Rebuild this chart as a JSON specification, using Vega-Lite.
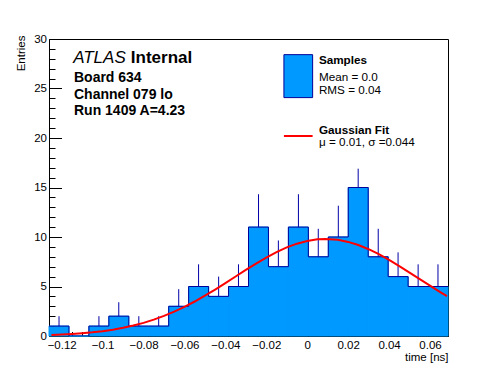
{
  "$schema": "https://vega.github.io/schema/vega-lite/v6.json",
  "width": 399,
  "height": 297,
  "autosize": {"type": "none"},
  "padding": {"left": 49, "top": 39, "right": 50, "bottom": 38},
  "background": "white",
  "config": {
    "font": "Liberation Sans",
    "view": {"stroke": "black", "strokeWidth": 1},
    "axis": {"labelFont": "Liberation Sans", "titleFont": "Liberation Sans", "labelColor": "black", "titleColor": "black", "tickColor": "black", "domainColor": "black", "grid": false, "zindex": 1},
    "text": {"font": "Liberation Sans"}
  },
  "datasets": {
    "bins": [
      {"t": -0.1213, "lo": -0.1262, "hi": -0.11645, "n": 1, "up": 2},
      {"t": -0.1116, "lo": -0.11645, "hi": -0.1067, "n": 0, "up": 0},
      {"t": -0.1018, "lo": -0.1067, "hi": -0.09695, "n": 1, "up": 2},
      {"t": -0.0921, "lo": -0.09695, "hi": -0.0872, "n": 2, "up": 3.41},
      {"t": -0.0823, "lo": -0.0872, "hi": -0.07745, "n": 1, "up": 2},
      {"t": -0.0726, "lo": -0.07745, "hi": -0.0677, "n": 1, "up": 2},
      {"t": -0.0628, "lo": -0.0677, "hi": -0.05795, "n": 3, "up": 4.73},
      {"t": -0.0531, "lo": -0.05795, "hi": -0.0482, "n": 5, "up": 7.24},
      {"t": -0.0433, "lo": -0.0482, "hi": -0.03845, "n": 4, "up": 6},
      {"t": -0.0336, "lo": -0.03845, "hi": -0.0287, "n": 5, "up": 7.24},
      {"t": -0.0238, "lo": -0.0287, "hi": -0.01895, "n": 11, "up": 14.32},
      {"t": -0.0141, "lo": -0.01895, "hi": -0.0092, "n": 7, "up": 9.65},
      {"t": -0.0043, "lo": -0.0092, "hi": 0.00055, "n": 11, "up": 14.32},
      {"t": 0.0054, "lo": 0.00055, "hi": 0.0103, "n": 8, "up": 10.83},
      {"t": 0.0152, "lo": 0.0103, "hi": 0.02005, "n": 10, "up": 13.16},
      {"t": 0.0249, "lo": 0.02005, "hi": 0.0298, "n": 15, "up": 16.9},
      {"t": 0.0347, "lo": 0.0298, "hi": 0.03955, "n": 8, "up": 10.83},
      {"t": 0.0444, "lo": 0.03955, "hi": 0.0493, "n": 6, "up": 8.45},
      {"t": 0.0542, "lo": 0.0493, "hi": 0.05905, "n": 5, "up": 7.24},
      {"t": 0.0639, "lo": 0.05905, "hi": 0.0688, "n": 5, "up": 7.24}
    ],
    "fit": [
      {"t": -0.125, "f": 0.1053}, {"t": -0.12, "f": 0.1467}, {"t": -0.115, "f": 0.2019},
      {"t": -0.11, "f": 0.2744}, {"t": -0.105, "f": 0.3684}, {"t": -0.1, "f": 0.488},
      {"t": -0.095, "f": 0.6383}, {"t": -0.09, "f": 0.8251}, {"t": -0.085, "f": 1.053},
      {"t": -0.08, "f": 1.3263}, {"t": -0.075, "f": 1.6498}, {"t": -0.07, "f": 2.0272},
      {"t": -0.065, "f": 2.4588}, {"t": -0.06, "f": 2.9456}, {"t": -0.055, "f": 3.4841},
      {"t": -0.05, "f": 4.0694}, {"t": -0.045, "f": 4.6931}, {"t": -0.04, "f": 5.3449},
      {"t": -0.035, "f": 6.0109}, {"t": -0.03, "f": 6.675}, {"t": -0.025, "f": 7.3195},
      {"t": -0.02, "f": 7.9248}, {"t": -0.015, "f": 8.4735}, {"t": -0.01, "f": 8.9462},
      {"t": -0.005, "f": 9.3269}, {"t": 0, "f": 9.6016}, {"t": 0.005, "f": 9.7605},
      {"t": 0.009, "f": 9.8}, {"t": 0.015, "f": 9.7113}, {"t": 0.02, "f": 9.5051},
      {"t": 0.025, "f": 9.1865}, {"t": 0.03, "f": 8.7674}, {"t": 0.035, "f": 8.2622},
      {"t": 0.04, "f": 7.6886}, {"t": 0.045, "f": 7.065}, {"t": 0.05, "f": 6.4104},
      {"t": 0.055, "f": 5.7435}, {"t": 0.06, "f": 5.0818}, {"t": 0.065, "f": 4.4397},
      {"t": 0.0683, "f": 4.033}
    ]
  },
  "resolve": {"axis": {"x": "independent", "y": "independent"}},
  "layer": [
    {
      "data": {"name": "bins"},
      "mark": {"type": "rect", "fill": "#0099ff", "stroke": "#0099ff", "strokeWidth": 1},
      "encoding": {
        "x": {"field": "lo", "type": "quantitative",
          "scale": {"domain": [-0.1262, 0.0688], "nice": false, "zero": false},
          "axis": {"orient": "bottom", "values": [-0.12, -0.1, -0.08, -0.06, -0.04, -0.02, 0, 0.02, 0.04, 0.06], "format": ".2~f", "tickSize": -9, "labelPadding": 12, "labelFontSize": 11.5, "labelFlush": false, "labelOverlap": false, "title": "time [ns]", "titleFontSize": 11.5, "titleFontWeight": "normal", "titleX": 399, "titleY": 24, "titleAlign": "right", "titleAnchor": "end", "titleBaseline": "alphabetic"}},
        "x2": {"field": "hi"},
        "y": {"field": "n", "type": "quantitative",
          "scale": {"domain": [0, 30], "nice": false, "zero": true},
          "axis": {"orient": "left", "values": [0, 5, 10, 15, 20, 25, 30], "format": "d", "tickSize": -12.5, "labelPadding": 15, "labelFontSize": 11.5, "labelFlush": false, "labelOverlap": false, "title": "Entries", "titleFontSize": 11.5, "titleFontWeight": "normal", "titleAngle": 270, "titleX": -25, "titleY": -4, "titleAlign": "right", "titleAnchor": "end", "titleBaseline": "alphabetic"}},
        "y2": {"datum": 0}
      }
    },
    {
      "data": {"name": "bins"},
      "transform": [{"fold": ["lo", "hi"], "as": ["edge", "pos"]}],
      "mark": {"type": "line", "color": "#000099", "strokeWidth": 1, "clip": true},
      "encoding": {
        "x": {"field": "pos", "type": "quantitative", "axis": null},
        "y": {"field": "n", "type": "quantitative", "axis": null},
        "order": [{"field": "pos", "type": "quantitative"}, {"field": "edge", "type": "nominal"}]
      }
    },
    {
      "data": {"name": "bins"},
      "mark": {"type": "rule", "color": "#0000a8", "strokeWidth": 1},
      "encoding": {
        "x": {"field": "t", "type": "quantitative",
          "axis": {"orient": "bottom", "values": [-0.125, -0.115, -0.11, -0.105, -0.095, -0.09, -0.085, -0.075, -0.07, -0.065, -0.055, -0.05, -0.045, -0.035, -0.03, -0.025, -0.015, -0.01, -0.005, 0.005, 0.01, 0.015, 0.025, 0.03, 0.035, 0.045, 0.05, 0.055, 0.065], "labels": false, "domain": false, "tickSize": -4.5, "title": null}},
        "y": {"field": "n", "type": "quantitative",
          "axis": {"orient": "left", "values": [1, 2, 3, 4, 6, 7, 8, 9, 11, 12, 13, 14, 16, 17, 18, 19, 21, 22, 23, 24, 26, 27, 28, 29], "labels": false, "domain": false, "tickSize": -6, "title": null}},
        "y2": {"field": "up"}
      }
    },
    {
      "data": {"name": "fit"},
      "mark": {"type": "line", "color": "#ff0000", "strokeWidth": 2, "clip": true},
      "encoding": {
        "x": {"field": "t", "type": "quantitative", "axis": null},
        "y": {"field": "f", "type": "quantitative", "axis": null}
      }
    },
    {
      "data": {"values": [{}]},
      "mark": {"type": "rect", "fill": "#0099ff", "stroke": "#000099", "strokeWidth": 1},
      "encoding": {
        "x": {"datum": -0.01139, "type": "quantitative", "axis": null},
        "x2": {"datum": 0.00264},
        "y": {"datum": 28.42, "type": "quantitative", "axis": null},
        "y2": {"datum": 24.08}
      }
    },
    {
      "data": {"values": [{}]},
      "mark": {"type": "rule", "color": "#ff0000", "strokeWidth": 2},
      "encoding": {
        "x": {"datum": -0.01139, "type": "quantitative", "axis": null},
        "x2": {"datum": 0.00264},
        "y": {"datum": 20.2, "type": "quantitative", "axis": null}
      }
    },
    {
      "data": {"values": [{}]},
      "mark": {"type": "text", "text": "ATLAS", "fontStyle": "italic", "fontSize": 17, "align": "left", "baseline": "alphabetic", "color": "black"},
      "encoding": {"x": {"datum": -0.1144, "type": "quantitative", "axis": null}, "y": {"datum": 27.62, "type": "quantitative", "axis": null}}
    },
    {
      "data": {"values": [{}]},
      "mark": {"type": "text", "text": "Internal", "fontWeight": "bold", "fontSize": 17, "align": "left", "baseline": "alphabetic", "color": "black"},
      "encoding": {"x": {"datum": -0.0862, "type": "quantitative", "axis": null}, "y": {"datum": 27.62, "type": "quantitative", "axis": null}}
    },
    {
      "data": {"values": [{}]},
      "mark": {"type": "text", "text": "Board 634", "fontWeight": "bold", "fontSize": 14, "align": "left", "baseline": "alphabetic", "color": "black"},
      "encoding": {"x": {"datum": -0.114, "type": "quantitative", "axis": null}, "y": {"datum": 25.66, "type": "quantitative", "axis": null}}
    },
    {
      "data": {"values": [{}]},
      "mark": {"type": "text", "text": "Channel 079 lo", "fontWeight": "bold", "fontSize": 14, "align": "left", "baseline": "alphabetic", "color": "black"},
      "encoding": {"x": {"datum": -0.114, "type": "quantitative", "axis": null}, "y": {"datum": 23.98, "type": "quantitative", "axis": null}}
    },
    {
      "data": {"values": [{}]},
      "mark": {"type": "text", "text": "Run 1409 A=4.23", "fontWeight": "bold", "fontSize": 14, "align": "left", "baseline": "alphabetic", "color": "black"},
      "encoding": {"x": {"datum": -0.114, "type": "quantitative", "axis": null}, "y": {"datum": 22.29, "type": "quantitative", "axis": null}}
    },
    {
      "data": {"values": [{}]},
      "mark": {"type": "text", "text": "Samples", "fontWeight": "bold", "fontSize": 11.7, "align": "left", "baseline": "alphabetic", "color": "black"},
      "encoding": {"x": {"datum": 0.00572, "type": "quantitative", "axis": null}, "y": {"datum": 27.47, "type": "quantitative", "axis": null}}
    },
    {
      "data": {"values": [{}]},
      "mark": {"type": "text", "text": "Mean = 0.0", "fontSize": 11.7, "align": "left", "baseline": "alphabetic", "color": "black"},
      "encoding": {"x": {"datum": 0.00572, "type": "quantitative", "axis": null}, "y": {"datum": 25.76, "type": "quantitative", "axis": null}}
    },
    {
      "data": {"values": [{}]},
      "mark": {"type": "text", "text": "RMS = 0.04", "fontSize": 11.7, "align": "left", "baseline": "alphabetic", "color": "black"},
      "encoding": {"x": {"datum": 0.00572, "type": "quantitative", "axis": null}, "y": {"datum": 24.48, "type": "quantitative", "axis": null}}
    },
    {
      "data": {"values": [{}]},
      "mark": {"type": "text", "text": "Gaussian Fit", "fontWeight": "bold", "fontSize": 11.7, "align": "left", "baseline": "alphabetic", "color": "black"},
      "encoding": {"x": {"datum": 0.00572, "type": "quantitative", "axis": null}, "y": {"datum": 20.37, "type": "quantitative", "axis": null}}
    },
    {
      "data": {"values": [{}]},
      "mark": {"type": "text", "text": "μ = 0.01, σ =0.044", "fontSize": 11.7, "align": "left", "baseline": "alphabetic", "color": "black"},
      "encoding": {"x": {"datum": 0.00572, "type": "quantitative", "axis": null}, "y": {"datum": 19.2, "type": "quantitative", "axis": null}}
    }
  ]
}
